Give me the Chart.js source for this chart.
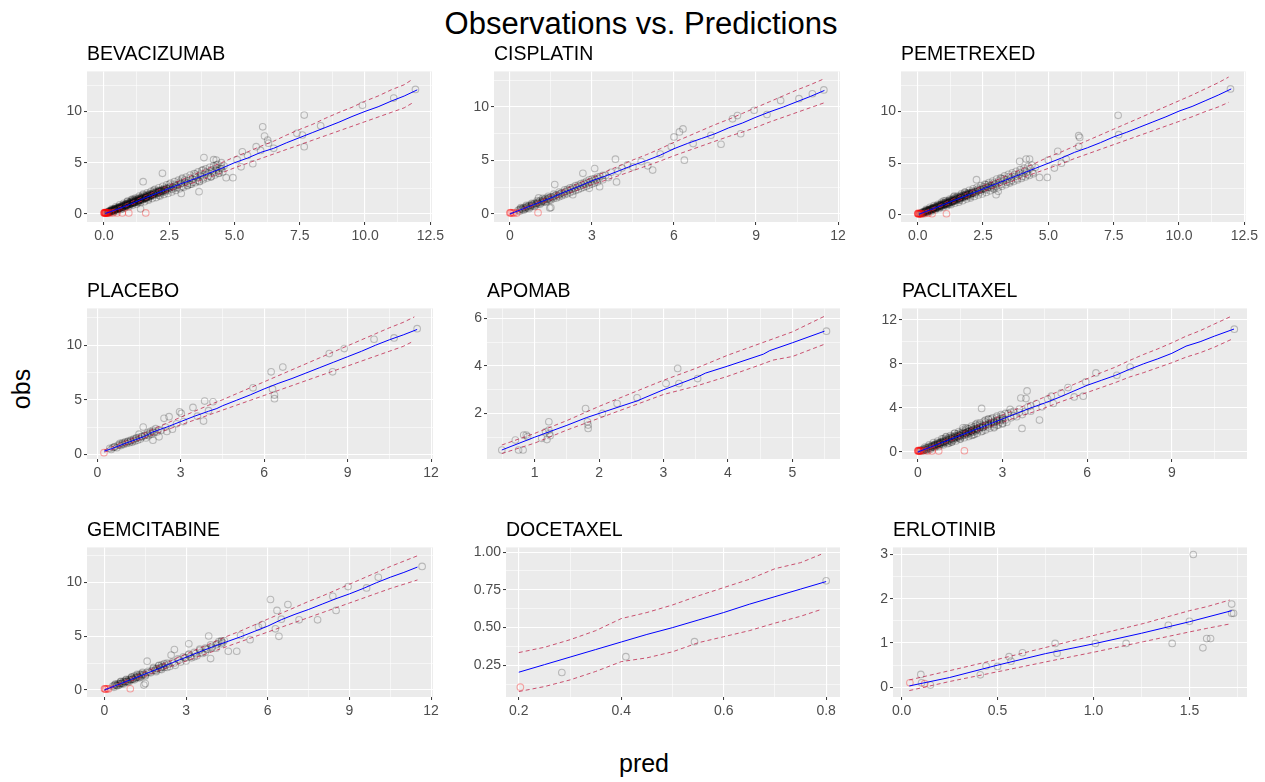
<!DOCTYPE html>
<html><head><meta charset="utf-8">
<script src="https://cdn.jsdelivr.net/npm/chart.js@4.4.1/dist/chart.umd.min.js"></script>
<style>
html,body{margin:0;padding:0;background:#fff;}
#wrap{position:relative;width:1265px;height:782px;overflow:hidden;font-family:"Liberation Sans",Arial,sans-serif;color:#000;}
canvas{position:absolute;}
.ptitle{position:absolute;font-size:19.5px;line-height:1;white-space:nowrap;}
#main{position:absolute;left:641px;top:8px;transform:translateX(-50%);font-size:31px;line-height:1;white-space:nowrap;}
#xlab{position:absolute;left:644px;top:751px;transform:translateX(-50%);font-size:25px;line-height:1;}
#ylab{position:absolute;left:21px;top:389px;transform:translate(-50%,-50%) rotate(-90deg);font-size:25px;line-height:1;}
</style>
</head><body>
<div id="wrap">
<div id="main">Observations vs. Predictions</div>
<div id="xlab">pred</div>
<div id="ylab">obs</div>
</div>
<script>
// ---------------- DATA ----------------
const PANEL_NAMES = ['BEVACIZUMAB','CISPLATIN','PEMETREXED','PLACEBO','APOMAB','PACLITAXEL','GEMCITABINE','DOCETAXEL','ERLOTINIB'];

// BEVACIZUMAB
const BEV_OBS = [[0.12,0.15],[0.15,0.1],[0.18,0.22],[0.2,0.3],[0.22,0.18],[0.25,0.35],[0.28,0.25],[0.3,0.4],[0.32,0.3],[0.35,0.45],[0.38,0.32],[0.4,0.5],[0.42,0.4],[0.45,0.55],[0.48,0.42],[0.5,0.6],[0.52,0.48],[0.55,0.65],[0.58,0.5],[0.6,0.72],[0.62,0.58],[0.65,0.75],[0.68,0.6],[0.7,0.82],[0.72,0.66],[0.75,0.9],[0.78,0.7],[0.8,0.95],[0.82,0.78],[0.85,1.0],[0.88,0.8],[0.9,1.05],[0.92,0.85],[0.95,1.1],[0.98,0.9],[1.0,1.15],[1.02,0.95],[1.05,1.25],[1.08,1.0],[1.1,1.3],[1.12,1.05],[1.15,1.4],[1.18,1.1],[1.2,1.35],[1.22,1.15],[1.25,1.5],[1.28,1.2],[1.3,1.45],[1.32,1.25],[1.35,1.6],[1.38,1.3],[1.4,1.55],[1.42,1.35],[1.45,1.7],[1.48,1.4],[1.5,1.6],[1.52,1.45],[1.55,1.8],[1.58,1.5],[1.6,1.7],[1.62,1.55],[1.65,1.9],[1.68,1.6],[1.7,1.85],[1.72,1.65],[1.75,2.0],[1.78,1.7],[1.8,1.95],[1.85,1.8],[1.9,2.1],[1.95,1.85],[2.0,2.2],[2.05,1.95],[2.1,2.3],[2.15,2.0],[2.2,2.35],[2.25,2.1],[2.3,2.5],[2.35,2.2],[2.4,2.55],[2.45,2.3],[2.5,2.6],[2.6,2.4],[2.7,2.9],[2.8,2.6],[2.9,3.1],[3.0,2.7],[3.1,3.3],[3.2,3.0],[3.3,3.5],[3.4,3.1],[3.5,3.7],[3.6,3.3],[3.7,3.9],[3.8,3.5],[3.9,4.1],[4.0,3.7],[4.1,4.3],[4.2,4.0],[4.3,4.5],[4.4,4.2],[4.5,4.6],[2.96,2.0],[3.64,2.18],[3.66,3.15],[1.5,3.15],[2.24,3.96],[3.83,5.5],[4.3,5.26],[4.2,5.3],[4.68,3.54],[4.94,3.54],[5.25,4.6],[5.7,4.9],[5.83,6.56],[5.3,6.07],[5.1,5.3],[5.5,5.7],[6.08,8.5],[6.15,7.6],[6.27,7.2],[6.3,6.9],[7.67,9.64],[7.67,6.56],[7.39,7.86],[7.6,7.7],[8.3,8.6],[9.9,10.6],[11.1,11.3],[11.93,12.14],[6.0,6.2],[6.5,6.4],[2.5,2.9],[2.7,2.5],[3.0,3.4],[3.2,2.8],[3.5,3.9],[3.3,2.9],[3.8,4.3],[4.1,3.6],[4.3,4.8],[4.4,4.0],[4.6,4.7],[4.5,4.4],[1.4,0.5],[0.3,0.3],[0.5,0.5],[0.7,0.7],[0.9,0.95],[1.1,1.15],[1.3,1.35],[1.5,1.55],[1.7,1.75],[1.9,1.95],[2.1,2.15],[2.3,2.35],[0.4,0.45],[0.6,0.6],[0.8,0.85],[1.0,1.05],[1.2,1.25],[1.4,1.45],[1.6,1.6],[1.8,1.85],[2.0,2.05],[2.2,2.2],
 [0.15,0.2],[0.18,0.15],[0.22,0.28],[0.26,0.22],[0.3,0.35],[0.34,0.4],[0.37,0.3],[0.41,0.45],[0.44,0.38],[0.47,0.52],[0.51,0.45],[0.54,0.6],[0.57,0.55],[0.61,0.65],[0.64,0.58],[0.67,0.72],[0.71,0.68],[0.74,0.8],[0.77,0.75],[0.81,0.88],[0.84,0.8],[0.87,0.95],[0.91,0.88],[0.94,1.0],[0.97,0.95],[1.01,1.08],[1.04,1.0],[1.07,1.15],[1.11,1.08],[1.14,1.22],[1.17,1.15],[1.21,1.3],[1.24,1.2],[1.27,1.38],[1.31,1.3],[1.34,1.42],[1.37,1.35],[1.41,1.5],[1.44,1.45],[1.47,1.58],[1.51,1.5],[1.54,1.65],[1.57,1.55],[1.61,1.72],[1.64,1.65],[1.67,1.8],[1.71,1.7],[1.74,1.85],[1.77,1.8],[1.81,1.9],[1.84,1.85],[1.88,2.0],[1.92,1.95],[1.96,2.1],[2.0,2.0],[2.04,2.15],[2.08,2.1],[2.12,2.25],[2.16,2.2],[2.2,2.3],[2.25,2.25],[2.3,2.4],[2.35,2.35],[2.4,2.45],[2.45,2.45],[2.55,2.7],[2.65,2.6],[2.75,2.8],[2.85,2.85],[2.95,3.0],[1.1,1.45],[1.3,1.1],[1.5,1.95],[1.7,1.45],[1.9,2.3],[2.1,1.8],[0.9,1.2],[0.7,0.5],
 [0.3,0.5],[0.35,0.2],[0.45,0.7],[0.5,0.3],[0.6,0.9],[0.65,0.45],[0.75,1.05],[0.8,0.6],[0.9,1.25],[0.95,0.7],[1.05,1.4],[1.1,0.85],[1.2,1.55],[1.25,0.95],[1.35,1.75],[1.4,1.1],[1.5,1.85],[1.55,1.2],[1.65,2.05],[1.7,1.35],[1.8,2.2],[1.85,1.5],[1.95,2.4],[2.0,1.6],[2.1,2.55],[2.15,1.75],[2.25,2.7],[2.3,1.9],[2.4,2.85],[2.45,2.0],[2.55,3.0],[2.6,2.15],[2.7,3.15],[2.75,2.3],[2.85,3.3],[2.9,2.45],[3.0,3.5],[3.05,2.6],[3.15,3.6],[3.2,2.75],[3.3,3.8],[3.35,2.9],[3.45,3.95],[3.5,3.05],[3.6,4.1],[3.65,3.2],[3.75,4.25],[3.8,3.35],[3.9,4.4],[3.95,3.5],[4.05,4.55],[4.1,3.65],[4.2,4.7],[4.25,3.8],[4.35,4.85],[4.4,3.95],[4.5,5.0],[4.55,4.1],[1.0,1.0],[1.3,1.3],[1.6,1.6],[1.9,1.9],[2.2,2.2],[2.5,2.5],[2.8,2.8],[3.1,3.1],[3.4,3.4],[3.7,3.7],[4.0,4.0],[4.3,4.3],[0.55,0.55],[0.85,0.85],[1.15,1.15],[1.45,1.45],[1.75,1.75],[2.05,2.05],[2.35,2.35],[2.65,2.65],[2.95,2.95],[3.25,3.25],[3.55,3.55],[3.85,3.85],[4.15,4.15],[4.45,4.45]];
const BEV_BLQ = [[0,0.1],[0.01,0.12],[0.02,0.08],[0.03,0.15],[0.04,0.1],[0.05,0.12],[0.06,0.08],[0.07,0.1],[0.08,0.14],[0.1,0.1],[0.12,0.12],[0.14,0.1],[0.18,0.1],[0.25,0.1],[0.35,0.1],[0.5,0.1],[0.7,0.1],[0.95,0.1],[1.6,0.1]];
const BEV_MED = [[0.05,0.05],[0.5,0.45],[1.0,0.95],[1.5,1.5],[2.0,2.0],[2.5,2.5],[3.0,3.0],[3.5,3.45],[4.0,3.95],[4.5,4.45],[5.0,5.0],[5.5,5.45],[6.0,6.0],[6.5,6.4],[7.0,6.95],[7.5,7.45],[8.0,7.95],[8.5,8.45],[9.0,8.95],[9.5,9.5],[10.0,10.0],[10.5,10.45],[11.0,11.0],[11.5,11.5],[12.0,12.1]];
const BEV_UP = [[0.05,0.1],[0.5,0.6],[1.0,1.15],[1.5,1.7],[2.0,2.25],[2.5,2.8],[3.0,3.35],[3.5,3.9],[4.0,4.45],[4.5,5.0],[5.0,5.55],[5.5,6.05],[6.0,6.6],[6.5,7.1],[7.0,7.7],[7.5,8.25],[8.0,8.75],[8.5,9.35],[9.0,9.9],[9.5,10.4],[10.0,11.0],[10.5,11.5],[11.0,12.1],[11.5,12.6],[11.8,13.1]];
const BEV_LO = [[0.05,0.0],[0.5,0.4],[1.0,0.85],[1.5,1.3],[2.0,1.8],[2.5,2.25],[3.0,2.7],[3.5,3.1],[4.0,3.55],[4.5,4.0],[5.0,4.5],[5.5,4.95],[6.0,5.4],[6.5,5.85],[7.0,6.3],[7.5,6.75],[8.0,7.2],[8.5,7.65],[9.0,8.1],[9.5,8.55],[10.0,9.0],[10.5,9.45],[11.0,9.9],[11.5,10.35],[11.8,10.8]];

// CISPLATIN
const CIS_OBS = [[0.3,0.35],[0.35,0.25],[0.4,0.5],[0.45,0.4],[0.5,0.6],[0.55,0.45],[0.6,0.7],[0.65,0.55],[0.7,0.8],[0.75,0.65],[0.8,0.9],[0.85,0.75],[0.9,1.0],[0.95,0.85],[1.0,1.1],[1.05,0.95],[1.1,1.25],[1.15,1.05],[1.2,1.3],[1.25,1.15],[1.3,1.45],[1.35,1.2],[1.4,1.5],[1.45,1.3],[1.5,1.6],[1.6,1.45],[1.64,2.75],[1.7,1.8],[1.8,1.6],[1.9,2.0],[2.0,1.8],[2.1,2.3],[2.2,2.0],[2.3,2.5],[2.4,2.2],[2.5,2.7],[2.6,2.4],[2.67,3.8],[2.7,2.9],[2.8,2.6],[2.9,3.2],[3.0,2.8],[3.1,4.25],[3.1,3.3],[3.2,3.0],[3.28,2.55],[3.3,3.5],[3.4,3.2],[3.5,3.6],[3.6,3.4],[3.7,3.9],[3.86,5.12],[3.9,3.0],[3.95,4.0],[4.1,4.3],[4.3,4.6],[4.5,4.4],[4.8,4.9],[5.04,4.5],[5.22,4.1],[1.46,0.55],[1.5,0.6],[1.05,1.5],[2.3,1.8],[2.9,2.4],[0.6,0.6],[0.8,0.8],[1.0,1.0],[1.2,1.2],[1.4,1.4],[1.6,1.65],[1.8,1.85],[2.0,2.05],[5.5,5.6],[5.9,6.3],[6.0,7.2],[6.2,7.67],[6.33,7.95],[6.38,5.03],[6.7,6.58],[7.35,7.36],[7.72,6.52],[8.14,8.9],[8.32,9.2],[8.44,7.5],[8.93,9.7],[9.4,9.3],[9.9,10.6],[10.57,10.78],[11.06,11.24],[11.48,11.6],
 [0.35,0.4],[0.45,0.5],[0.55,0.55],[0.65,0.7],[0.75,0.75],[0.85,0.9],[0.95,0.95],[1.05,1.1],[1.15,1.15],[1.25,1.3],[1.35,1.35],[1.45,1.5],[1.55,1.55],[1.65,1.7],[1.75,1.7],[1.85,1.9],[1.95,1.9],[2.05,2.1],[2.15,2.2],[2.25,2.3],[2.35,2.4],[2.45,2.5],[2.55,2.6],[2.65,2.7],[2.75,2.8],[2.85,2.9],[2.95,3.0],[3.05,3.1],[3.15,3.2],[3.25,3.3],
 [0.4,0.6],[0.5,0.35],[0.6,0.8],[0.7,0.5],[0.8,1.0],[0.9,0.7],[1.0,1.25],[1.1,0.9],[1.2,1.45],[1.3,1.1],[1.4,1.65],[1.5,1.3],[1.6,1.85],[1.7,1.5],[1.8,2.05],[1.9,1.7],[2.0,2.25],[2.1,1.9],[2.2,2.45],[2.3,2.1],[2.4,2.65],[2.5,2.3],[2.6,2.85],[2.7,2.5],[2.8,3.05],[2.9,2.7],[3.0,3.25],[3.1,2.9],[3.2,3.45],[3.4,3.6]];
const CIS_BLQ = [[0,0.1],[0.02,0.12],[0.05,0.08],[0.1,0.1],[0.15,0.1],[0.25,0.08],[1.03,0.12]];
const CIS_MED = [[0,0],[0.5,0.5],[1,1],[1.5,1.5],[2,2.05],[2.5,2.55],[3,3.1],[3.5,3.55],[4,4.05],[4.5,4.55],[5,5.0],[5.5,5.5],[6,6.1],[6.5,6.6],[7,7.05],[7.5,7.5],[8,8.05],[8.5,8.5],[9,9.05],[9.5,9.55],[10,10.0],[10.5,10.5],[11,11.0],[11.5,11.55]];
const CIS_UP = [[0,0.05],[0.5,0.6],[1,1.15],[1.5,1.7],[2,2.3],[2.5,2.85],[3,3.4],[3.5,3.95],[4,4.5],[4.5,5.05],[5,5.55],[5.5,6.1],[6,6.7],[6.5,7.25],[7,7.8],[7.5,8.35],[8,8.85],[8.5,9.4],[9,9.95],[9.5,10.5],[10,11.05],[10.5,11.6],[11,12.1],[11.5,12.65]];
const CIS_LO = [[0,-0.05],[0.5,0.4],[1,0.85],[1.5,1.3],[2,1.8],[2.5,2.25],[3,2.75],[3.5,3.15],[4,3.6],[4.5,4.05],[5,4.5],[5.5,4.95],[6,5.45],[6.5,5.9],[7,6.35],[7.5,6.8],[8,7.25],[8.5,7.65],[9,8.1],[9.5,8.6],[10,9.05],[10.5,9.5],[11,9.95],[11.5,10.4]];

// PEMETREXED
const PEM_OBS = [[0.1,0.12],[0.14,0.2],[0.18,0.1],[0.2,0.28],[0.24,0.2],[0.27,0.36],[0.3,0.25],[0.33,0.42],[0.36,0.3],[0.4,0.48],[0.43,0.38],[0.46,0.56],[0.5,0.44],[0.53,0.62],[0.56,0.5],[0.6,0.7],[0.63,0.56],[0.66,0.78],[0.7,0.62],[0.73,0.86],[0.76,0.68],[0.8,0.94],[0.83,0.74],[0.86,1.0],[0.9,0.8],[0.93,1.08],[0.96,0.88],[1.0,1.16],[1.03,0.95],[1.06,1.24],[1.1,1.0],[1.13,1.3],[1.16,1.08],[1.2,1.38],[1.23,1.14],[1.26,1.45],[1.3,1.2],[1.33,1.52],[1.36,1.28],[1.4,1.6],[1.43,1.34],[1.46,1.68],[1.5,1.42],[1.55,1.75],[1.6,1.5],[1.65,1.85],[1.7,1.6],[1.75,1.95],[1.8,1.7],[1.85,2.05],[1.9,1.8],[1.95,2.15],[2.0,1.9],[2.1,2.3],[2.2,2.05],[2.3,2.5],[2.4,2.2],[2.5,2.7],[2.6,2.4],[2.7,2.95],[2.8,2.6],[2.9,3.1],[3.0,2.75],[3.1,3.3],[3.2,2.95],[3.3,3.5],[3.4,3.15],[3.5,3.7],[3.6,3.35],[3.7,3.9],[3.8,3.5],[3.9,4.1],[4.0,3.7],[4.1,4.3],[4.2,3.9],[4.3,4.5],[4.4,4.1],[4.5,4.6],[0.3,0.32],[0.5,0.52],[0.7,0.72],[0.9,0.92],[1.1,1.12],[1.3,1.32],[1.5,1.55],[1.7,1.72],[1.9,1.95],[2.1,2.12],[0.4,0.4],[0.6,0.62],[0.8,0.82],[1.0,1.02],[1.2,1.22],[1.4,1.42],[1.6,1.65],[1.8,1.85],[2.0,2.05],[2.6,2.9],[2.9,2.6],[3.2,3.5],[3.5,3.2],[3.0,1.94],[3.08,2.27],[2.25,3.4],[3.9,5.18],[4.15,5.4],[4.28,5.4],[4.66,3.62],[4.96,3.62],[5.23,4.53],[5.36,6.15],[5.68,5.4],[5.0,5.3],[5.5,5.0],[6.16,7.67],[6.2,7.5],[6.16,6.63],[7.67,9.64],[7.69,7.77],[11.97,12.2],
 [0.16,0.18],[0.2,0.14],[0.24,0.3],[0.28,0.24],[0.32,0.36],[0.36,0.42],[0.39,0.33],[0.43,0.47],[0.46,0.4],[0.49,0.54],[0.53,0.47],[0.56,0.62],[0.59,0.56],[0.63,0.67],[0.66,0.6],[0.69,0.74],[0.73,0.7],[0.76,0.82],[0.79,0.76],[0.83,0.9],[0.86,0.82],[0.89,0.96],[0.93,0.9],[0.96,1.02],[0.99,0.97],[1.03,1.1],[1.06,1.02],[1.09,1.17],[1.13,1.1],[1.16,1.24],[1.19,1.16],[1.23,1.32],[1.26,1.22],[1.29,1.4],[1.33,1.32],[1.36,1.44],[1.39,1.37],[1.43,1.52],[1.46,1.47],[1.49,1.6],[1.53,1.52],[1.56,1.67],[1.59,1.57],[1.63,1.74],[1.66,1.67],[1.69,1.82],[1.73,1.72],[1.76,1.87],[1.79,1.82],[1.83,1.92],[1.87,1.87],[1.91,2.02],[1.95,1.97],[1.99,2.12],[2.03,2.02],[2.08,2.17],[2.13,2.12],[2.18,2.27],[2.23,2.22],[2.28,2.38],[2.33,2.33],[2.38,2.45],[2.44,2.42],[2.5,2.55],[2.56,2.5],[2.62,2.72],[2.7,2.65],[2.78,2.85],[2.86,2.8],[2.95,3.0],[1.0,1.35],[1.2,1.0],[1.4,1.8],[1.6,1.4],[1.8,2.2],[2.0,1.75],
 [0.32,0.52],[0.37,0.22],[0.47,0.72],[0.52,0.32],[0.62,0.88],[0.67,0.47],[0.77,1.02],[0.82,0.62],[0.92,1.22],[0.97,0.72],[1.07,1.38],[1.12,0.87],[1.22,1.52],[1.27,0.97],[1.37,1.72],[1.42,1.12],[1.52,1.82],[1.57,1.22],[1.67,2.02],[1.72,1.37],[1.82,2.17],[1.87,1.52],[1.97,2.37],[2.02,1.62],[2.12,2.52],[2.17,1.77],[2.27,2.67],[2.32,1.92],[2.42,2.82],[2.47,2.02],[2.57,2.97],[2.62,2.17],[2.72,3.12],[2.77,2.32],[2.87,3.27],[2.92,2.47],[3.02,3.47],[3.07,2.62],[3.17,3.57],[3.22,2.77],[3.32,3.77],[3.37,2.92],[3.47,3.92],[3.52,3.07],[3.62,4.07],[3.67,3.22],[3.77,4.22],[3.82,3.37],[3.92,4.37],[3.97,3.52],[4.07,4.52],[4.12,3.67],[4.22,4.67],[4.27,3.82],[4.37,4.82],[4.42,3.97],[1.02,1.02],[1.32,1.32],[1.62,1.62],[1.92,1.92],[2.22,2.22],[2.52,2.52],[2.82,2.82],[3.12,3.12],[3.42,3.42],[3.72,3.72],[4.02,4.02],[0.57,0.57],[0.87,0.87],[1.17,1.17],[1.47,1.47],[1.77,1.77],[2.07,2.07],[2.37,2.37],[2.67,2.67],[2.97,2.97],[3.27,3.27],[3.57,3.57],[3.87,3.87],[4.17,4.17]];
const PEM_BLQ = [[0,0.1],[0.01,0.13],[0.02,0.15],[0.03,0.08],[0.05,0.08],[0.06,0.12],[0.08,0.1],[0.1,0.12],[0.12,0.09],[0.15,0.1],[0.25,0.1],[0.4,0.15],[0.55,0.1],[1.1,0.1]];
const PEM_MED = [[0.05,0.05],[0.5,0.5],[1.0,1.0],[1.5,1.5],[2.0,2.0],[2.5,2.5],[3.0,3.0],[3.5,3.5],[4.0,4.0],[4.5,4.5],[5.0,5.0],[5.5,5.5],[6.0,6.05],[6.5,6.5],[7.0,7.0],[7.5,7.55],[8.0,8.0],[8.5,8.5],[9.0,9.0],[9.5,9.5],[10.0,10.05],[10.5,10.5],[11.0,11.05],[11.5,11.6],[12.0,12.2]];
const PEM_UP = [[0.05,0.1],[0.5,0.6],[1.0,1.15],[1.5,1.7],[2.0,2.25],[2.5,2.8],[3.0,3.35],[3.5,3.9],[4.0,4.45],[4.5,5.0],[5.0,5.6],[5.5,6.1],[6.0,6.65],[6.5,7.2],[7.0,7.75],[7.5,8.3],[8.0,8.85],[8.5,9.4],[9.0,9.95],[9.5,10.5],[10.0,11.05],[10.5,11.6],[11.0,12.2],[11.5,12.8],[11.9,13.35]];
const PEM_LO = [[0.05,0.0],[0.5,0.4],[1.0,0.85],[1.5,1.3],[2.0,1.8],[2.5,2.25],[3.0,2.7],[3.5,3.15],[4.0,3.6],[4.5,4.05],[5.0,4.5],[5.5,4.95],[6.0,5.45],[6.5,5.9],[7.0,6.35],[7.5,6.8],[8.0,7.25],[8.5,7.7],[9.0,8.15],[9.5,8.6],[10.0,9.05],[10.5,9.5],[11.0,10.0],[11.5,10.45],[11.9,10.9]];

// PLACEBO
const PLA_OBS = [[0.45,0.55],[0.5,0.45],[0.55,0.6],[0.63,0.7],[0.7,0.6],[0.75,0.85],[0.81,1.0],[0.85,0.8],[0.9,1.05],[0.95,0.9],[1.0,1.15],[1.05,1.0],[1.1,1.2],[1.15,1.05],[1.2,1.3],[1.25,1.1],[1.3,1.4],[1.35,1.2],[1.4,1.5],[1.45,1.3],[1.5,1.85],[1.55,1.4],[1.6,1.6],[1.65,2.5],[1.7,1.75],[1.75,1.5],[1.8,1.95],[1.85,1.7],[1.9,2.1],[1.95,1.85],[2.0,1.3],[2.0,2.2],[2.05,2.0],[2.1,2.35],[2.15,2.05],[2.22,1.6],[2.3,2.2],[2.4,3.3],[2.45,2.5],[2.5,2.1],[2.58,3.45],[2.7,2.3],[2.85,2.8],[2.96,3.9],[3.02,3.75],[3.1,3.0],[3.44,4.3],[3.6,3.5],[3.82,3.05],[3.86,4.88],[4.0,4.0],[4.16,4.82],[5.6,6.1],[6.25,7.56],[6.67,8.0],[6.37,5.43],[6.37,5.1],[6.3,6.0],[8.34,9.24],[8.46,7.56],[8.88,9.7],[9.95,10.55],[10.67,10.67],[11.5,11.52],
 [0.6,0.65],[0.8,0.85],[1.0,1.05],[1.2,1.2],[1.4,1.45],[1.6,1.65],[1.8,1.8],[2.0,2.05],[2.2,2.25],[0.9,0.95],[1.1,1.15],[1.3,1.3],[1.5,1.55],[1.7,1.7],[1.9,1.95]];
const PLA_BLQ = [[0.24,0.15]];
const PLA_MED = [[0.25,0.3],[0.5,0.5],[1,1.0],[1.5,1.45],[1.7,1.65],[2,2.05],[2.5,2.5],[3,3.0],[3.5,3.5],[4,3.95],[4.3,4.2],[4.5,4.45],[5,4.95],[5.5,5.45],[6,6.0],[6.5,6.5],[7,6.95],[7.5,7.45],[8,7.95],[8.5,8.45],[9,8.95],[9.5,9.45],[10,10.0],[10.5,10.5],[11,10.95],[11.5,11.45]];
const PLA_UP = [[0.25,0.4],[0.5,0.65],[1,1.2],[1.5,1.7],[2,2.3],[2.5,2.85],[3,3.4],[3.5,3.95],[4,4.5],[4.5,5.0],[5,5.55],[5.5,6.1],[6,6.65],[6.5,7.2],[7,7.75],[7.5,8.3],[8,8.85],[8.5,9.4],[9,9.95],[9.5,10.5],[10,11.05],[10.5,11.6],[11,12.1],[11.4,12.6]];
const PLA_LO = [[0.25,0.2],[0.5,0.4],[1,0.85],[1.5,1.3],[2,1.8],[2.5,2.25],[3,2.7],[3.5,3.15],[4,3.6],[4.5,4.05],[5,4.5],[5.5,4.95],[6,5.4],[6.5,5.85],[7,6.3],[7.5,6.75],[8,7.2],[8.5,7.65],[9,8.1],[9.5,8.55],[10,9.0],[10.5,9.45],[11,9.9],[11.35,10.35]];

// APOMAB
const APO_OBS = [[0.49,0.46],[0.7,0.88],[0.75,0.46],[0.82,0.46],[0.83,1.09],[0.87,1.09],[0.89,1.02],[1.11,0.95],[1.17,1.23],[1.22,1.65],[1.22,1.3],[1.23,1.16],[1.19,0.9],[1.24,1.06],[1.79,2.21],[1.82,1.65],[1.83,1.37],[1.83,1.51],[2.59,2.66],[2.28,2.42],[2.05,2.0],[3.04,3.26],[3.22,3.9],[3.24,3.26],[3.53,3.47],[5.53,5.47]];
const APO_BLQ = [];
const APO_MED = [[0.49,0.46],[1.0,1.0],[1.5,1.5],[1.8,1.82],[2.0,2.0],[2.59,2.53],[3.0,3.0],[3.53,3.54],[3.65,3.7],[4.0,4.0],[4.55,4.5],[4.65,4.65],[5.0,4.98],[5.5,5.47]];
const APO_UP = [[0.49,0.67],[1.0,1.16],[1.5,1.7],[2.0,2.3],[2.5,2.85],[3.0,3.4],[3.5,3.9],[4.0,4.46],[4.5,4.95],[5.0,5.44],[5.5,6.1]];
const APO_LO = [[0.49,0.31],[1.0,0.75],[1.5,1.3],[2.0,1.8],[2.5,2.3],[3.0,2.8],[3.5,3.15],[4.0,3.57],[4.5,4.05],[4.7,4.25],[5.0,4.4],[5.5,4.92]];

// PACLITAXEL
const PAC_OBS = [[0.1,0.15],[0.15,0.1],[0.2,0.3],[0.25,0.2],[0.3,0.4],[0.35,0.25],[0.4,0.5],[0.45,0.35],[0.5,0.6],[0.55,0.45],[0.6,0.7],[0.65,0.55],[0.7,0.85],[0.75,0.65],[0.8,0.9],[0.85,0.7],[0.9,1.05],[0.95,0.85],[1.0,1.2],[1.05,0.9],[1.1,1.3],[1.15,1.0],[1.2,1.4],[1.25,1.1],[1.3,1.5],[1.35,1.2],[1.4,1.65],[1.45,1.3],[1.5,1.75],[1.55,1.4],[1.6,1.8],[1.65,1.5],[1.7,2.0],[1.75,1.6],[1.8,2.1],[1.85,1.7],[1.9,2.2],[1.95,1.8],[2.0,2.3],[2.05,1.9],[2.1,2.4],[2.15,2.0],[2.2,2.5],[2.26,3.95],[2.3,2.2],[2.4,2.7],[2.5,2.3],[2.6,3.0],[2.7,2.5],[2.8,3.1],[2.9,2.7],[3.0,3.3],[3.1,2.9],[3.2,3.5],[3.27,3.86],[3.3,3.1],[3.4,3.7],[3.5,3.2],[3.6,3.9],[3.65,4.9],[3.69,2.14],[3.7,3.4],[3.83,4.85],[3.87,5.54],[3.9,4.1],[4.0,3.7],[4.2,4.4],[4.31,2.9],[4.4,4.1],[4.6,4.8],[4.73,5.06],[4.8,4.4],[5.08,5.36],[5.32,5.84],[5.54,5.0],[5.86,5.06],[5.95,6.36],[6.31,7.17],[7.05,6.96],[7.52,7.71],[11.21,11.14],[0.5,0.5],[0.7,0.7],[0.9,0.9],[1.1,1.1],[1.3,1.3],[1.5,1.5],[1.7,1.75],[1.9,1.95],[2.1,2.15],[2.3,2.4],[2.5,2.6],[2.7,2.8],[2.9,3.0],[1.0,1.4],[1.2,0.9],[1.6,2.2],[2.0,1.6],[2.4,2.9],[2.8,2.4],[3.0,2.6],[3.3,3.6],[3.0,2.9],[0.6,0.6],[0.8,0.8],[1.4,1.4],[1.8,1.85],[2.2,2.25],
 [0.15,0.2],[0.2,0.15],[0.25,0.3],[0.3,0.25],[0.35,0.4],[0.4,0.35],[0.45,0.5],[0.5,0.45],[0.55,0.6],[0.6,0.55],[0.65,0.7],[0.7,0.65],[0.75,0.8],[0.8,0.75],[0.85,0.9],[0.9,0.85],[0.95,1.0],[1.0,0.95],[1.05,1.15],[1.1,1.05],[1.15,1.25],[1.2,1.15],[1.25,1.35],[1.3,1.25],[1.35,1.45],[1.4,1.35],[1.45,1.55],[1.5,1.45],[1.55,1.65],[1.6,1.55],[1.65,1.75],[1.7,1.65],[1.75,1.85],[1.8,1.75],[1.85,1.95],[1.9,1.85],[1.95,2.05],[2.0,1.95],[2.05,2.15],[2.1,2.05],[2.2,2.3],[2.3,2.25],[2.4,2.5],[2.5,2.45],[2.6,2.7],[2.7,2.65],[2.8,2.9],[2.9,2.85],[3.0,3.1],[1.3,1.7],[1.5,1.2],[1.7,2.2],[1.9,1.5],[2.1,2.6],[2.3,1.9],[2.5,3.0],[2.7,2.2],[1.1,0.8],[0.9,1.2],
 [0.25,0.45],[0.3,0.15],[0.4,0.65],[0.45,0.25],[0.55,0.85],[0.6,0.4],[0.7,1.0],[0.75,0.5],[0.85,1.2],[0.9,0.65],[1.0,1.35],[1.05,0.75],[1.15,1.5],[1.2,0.9],[1.3,1.7],[1.35,1.0],[1.45,1.85],[1.5,1.15],[1.6,2.0],[1.65,1.3],[1.75,2.15],[1.8,1.4],[1.9,2.35],[1.95,1.55],[2.05,2.5],[2.1,1.7],[2.2,2.65],[2.25,1.85],[2.35,2.8],[2.4,2.0],[2.5,2.95],[2.55,2.15],[2.65,3.1],[2.7,2.3],[2.8,3.25],[2.85,2.45],[2.95,3.4],[3.0,2.55],[3.1,3.5],[3.15,2.7],[0.6,0.65],[0.8,0.85],[1.0,1.05],[1.2,1.25],[1.4,1.45],[1.6,1.65],[1.8,1.85],[2.0,2.05],[2.2,2.2],[2.4,2.4],[2.6,2.6],[2.8,2.8],[3.0,3.0],[0.7,0.75],[0.9,0.95],[1.1,1.15],[1.3,1.35],[1.5,1.55],[1.7,1.7],[1.9,1.9],[2.1,2.1],[2.3,2.3],[2.5,2.5],[2.7,2.7],[3.4,3.3],[3.6,3.6],[3.8,3.7],[4.0,4.2]];
const PAC_BLQ = [[0,0.1],[0.01,0.13],[0.02,0.08],[0.03,0.15],[0.05,0.1],[0.06,0.08],[0.08,0.12],[0.1,0.1],[0.2,0.12],[0.35,0.1],[0.5,0.1],[0.74,0.1],[1.65,0.12]];
const PAC_MED = [[0,0],[0.5,0.5],[1,1.0],[1.5,1.5],[2,2.0],[2.5,2.5],[3,3.0],[3.5,3.5],[4,4.0],[4.5,4.45],[5,4.95],[5.5,5.5],[6,6.05],[6.5,6.5],[7,6.95],[7.5,7.5],[8,8.0],[8.5,8.45],[9,8.95],[9.5,9.6],[10,10.0],[10.5,10.5],[11.2,11.15]];
const PAC_UP = [[0,0.05],[0.5,0.6],[1,1.15],[1.5,1.7],[2,2.25],[2.5,2.8],[3,3.35],[3.5,3.9],[4,4.45],[4.5,5.0],[5,5.5],[5.5,6.1],[6,6.65],[6.5,7.2],[7,7.7],[7.5,8.3],[8,8.85],[8.5,9.35],[9,9.9],[9.5,10.5],[10,11.0],[10.5,11.6],[11.1,12.3]];
const PAC_LO = [[0,-0.05],[0.5,0.4],[1,0.85],[1.5,1.3],[2,1.8],[2.5,2.25],[3,2.7],[3.5,3.15],[4,3.55],[4.5,4.0],[5,4.5],[5.5,4.95],[6,5.4],[6.5,5.85],[7,6.3],[7.5,6.8],[8,7.2],[8.5,7.65],[9,8.1],[9.5,8.6],[10,9.0],[10.5,9.5],[11.1,10.2]];

// GEMCITABINE
const GEM_OBS = [[0.3,0.35],[0.35,0.25],[0.4,0.5],[0.45,0.4],[0.5,0.6],[0.55,0.5],[0.6,0.75],[0.65,0.6],[0.7,0.8],[0.75,0.7],[0.8,0.95],[0.85,0.75],[0.9,1.0],[0.95,0.9],[1.0,1.2],[1.05,1.0],[1.1,1.3],[1.15,1.1],[1.2,1.35],[1.25,1.15],[1.3,1.45],[1.35,1.25],[1.4,1.55],[1.45,0.46],[1.5,1.4],[1.57,2.69],[1.6,1.75],[1.7,1.6],[1.8,2.0],[1.9,1.8],[2.0,2.25],[2.05,1.95],[2.1,2.35],[2.2,2.1],[2.3,2.5],[2.4,2.2],[2.45,3.25],[2.5,2.6],[2.57,3.77],[2.6,2.3],[2.7,2.9],[2.8,2.6],[2.9,3.1],[3.0,2.7],[3.1,4.3],[3.1,3.3],[3.2,3.0],[3.3,3.5],[3.4,3.2],[3.5,3.7],[3.6,3.4],[3.7,3.9],[3.83,5.03],[3.9,2.93],[3.95,4.0],[4.1,4.2],[4.2,4.5],[4.3,4.3],[4.4,4.6],[4.55,3.61],[4.86,3.61],[5.0,5.1],[5.35,4.69],[5.66,5.86],[5.8,6.1],[6.1,8.43],[6.34,7.41],[6.41,5.0],[6.28,5.7],[6.5,6.6],[6.74,7.96],[7.15,6.54],[7.83,6.54],[8.39,8.73],[8.51,7.41],[8.95,9.63],[9.63,9.51],[10.06,10.49],[11.67,11.51],[1.5,0.6],[0.6,0.6],[0.8,0.8],[1.0,1.0],[1.2,1.2],[1.4,1.4],[1.9,2.0],[2.1,2.1],[3.0,3.0],[3.8,3.8],[4.3,4.5],
 [0.35,0.4],[0.45,0.45],[0.55,0.6],[0.65,0.65],[0.75,0.8],[0.85,0.85],[0.95,1.0],[1.05,1.05],[1.15,1.2],[1.25,1.25],[1.35,1.4],[1.45,1.45],[1.55,1.6],[1.65,1.65],[1.75,1.8],[1.85,1.85],[1.95,2.0],[2.05,2.1],[2.15,2.2],[2.25,2.3],[2.35,2.4],[2.55,2.5],[2.75,2.8],[2.95,3.0],[3.15,3.1],[3.35,3.4],[3.55,3.5],[3.75,3.8],[3.95,3.9],[4.15,4.3],[4.35,4.4],
 [0.4,0.55],[0.5,0.4],[0.6,0.8],[0.7,0.55],[0.8,1.0],[0.9,0.75],[1.0,1.2],[1.1,0.95],[1.2,1.45],[1.3,1.15],[1.4,1.65],[1.5,1.3],[1.8,2.1],[1.9,1.7],[2.0,2.3],[2.1,1.9],[2.2,2.45],[2.3,2.1],[3.1,3.35],[3.3,3.1],[3.5,3.8],[3.7,3.5],[3.9,4.2],[4.1,3.9],[4.3,4.6]];
const GEM_BLQ = [[0,0.12],[0.02,0.1],[0.05,0.08],[0.1,0.12],[0.15,0.1],[0.95,0.12]];
const GEM_MED = [[0,0],[0.5,0.5],[1,1.0],[1.5,1.5],[2,2.0],[2.5,2.55],[3,3.05],[3.5,3.55],[4,4.05],[4.5,4.5],[5,4.95],[5.5,5.45],[6,5.95],[6.5,6.55],[7,7.05],[7.5,7.5],[8,8.0],[8.5,8.5],[9,8.95],[9.5,9.45],[10,10.0],[10.5,10.5],[11,10.95],[11.5,11.45]];
const GEM_UP = [[0,0.05],[0.5,0.6],[1,1.15],[1.5,1.7],[2,2.25],[2.5,2.8],[3,3.35],[3.5,3.9],[4,4.45],[4.5,5.0],[5,5.5],[5.5,6.05],[6,6.6],[6.5,7.15],[7,7.7],[7.5,8.25],[8,8.75],[8.5,9.3],[9,9.85],[9.5,10.4],[10,10.95],[10.5,11.5],[11,12.0],[11.5,12.5]];
const GEM_LO = [[0,-0.05],[0.5,0.4],[1,0.85],[1.5,1.3],[2,1.8],[2.5,2.25],[3,2.7],[3.5,3.15],[4,3.6],[4.5,4.05],[5,4.5],[5.5,4.95],[6,5.4],[6.5,5.85],[7,6.3],[7.5,6.75],[8,7.2],[8.5,7.65],[9,8.1],[9.5,8.55],[10,9.0],[10.5,9.45],[11,9.85],[11.5,10.25]];

// DOCETAXEL
const DOC_OBS = [[0.284,0.203],[0.409,0.308],[0.543,0.407],[0.8,0.81]];
const DOC_BLQ = [[0.203,0.106]];
const DOC_MED = [[0.2,0.205],[0.25,0.255],[0.3,0.305],[0.35,0.355],[0.4,0.405],[0.45,0.455],[0.5,0.5],[0.55,0.55],[0.6,0.6],[0.65,0.655],[0.7,0.705],[0.75,0.755],[0.8,0.805]];
const DOC_UP = [[0.2,0.335],[0.25,0.37],[0.3,0.42],[0.35,0.48],[0.4,0.56],[0.45,0.6],[0.5,0.65],[0.55,0.71],[0.6,0.765],[0.65,0.82],[0.7,0.89],[0.75,0.93],[0.79,0.985]];
const DOC_LO = [[0.2,0.077],[0.25,0.11],[0.3,0.154],[0.35,0.21],[0.4,0.275],[0.45,0.3],[0.5,0.34],[0.55,0.4],[0.6,0.44],[0.65,0.48],[0.7,0.53],[0.75,0.575],[0.79,0.62]];

// ERLOTINIB
const ERL_OBS = [[0.1,0.29],[0.104,0.1],[0.15,0.05],[0.41,0.28],[0.44,0.48],[0.5,0.47],[0.56,0.69],[0.57,0.59],[0.63,0.78],[0.8,0.99],[0.81,0.77],[1.01,0.99],[1.17,0.99],[1.41,0.99],[1.39,1.4],[1.52,3.0],[1.57,0.89],[1.59,1.1],[1.61,1.1],[1.72,1.67],[1.72,1.88],[1.73,1.67],[1.5,1.49]];
const ERL_BLQ = [[0.043,0.1],[0.12,0.08]];
const ERL_MED = [[0.04,0.03],[0.25,0.22],[0.5,0.5],[0.75,0.76],[1.0,0.98],[1.25,1.22],[1.5,1.48],[1.72,1.73]];
const ERL_UP = [[0.04,0.165],[0.25,0.375],[0.5,0.63],[0.77,0.92],[1.01,1.18],[1.26,1.44],[1.5,1.73],[1.59,1.82],[1.71,1.97]];
const ERL_LO = [[0.04,-0.075],[0.25,0.13],[0.5,0.35],[0.77,0.59],[1.01,0.8],[1.26,1.03],[1.5,1.25],[1.59,1.33],[1.71,1.43]];

// Tick values and labels
const X_TICKS_125 = [0,2.5,5,7.5,10,12.5];
const X_LABELS_125 = ['0.0','2.5','5.0','7.5','10.0','12.5'];
const X_MINOR_125 = [1.25,3.75,6.25,8.75,11.25];
const X_TICKS_12 = [0,3,6,9,12];
const X_LABELS_12 = ['0','3','6','9','12'];
const X_MINOR_12 = [1.5,4.5,7.5,10.5];
const X_TICKS_PAC = [0,3,6,9];
const X_LABELS_PAC = ['0','3','6','9'];
const X_MINOR_PAC = [1.5,4.5,7.5,10.5];
const Y_TICKS_10 = [0,5,10];
const Y_LABELS_10 = ['0','5','10'];
const Y_MINOR_10 = [2.5,7.5,12.5];
const APO_X_TICKS = [1,2,3,4,5];
const APO_X_LABELS = ['1','2','3','4','5'];
const APO_X_MINOR = [0.5,1.5,2.5,3.5,4.5,5.5];
const APO_Y_TICKS = [2,4,6];
const APO_Y_LABELS = ['2','4','6'];
const APO_Y_MINOR = [1,3,5];
const PAC_Y_TICKS = [0,4,8,12];
const PAC_Y_LABELS = ['0','4','8','12'];
const PAC_Y_MINOR = [2,6,10];
const DOC_X_TICKS = [0.2,0.4,0.6,0.8];
const DOC_X_LABELS = ['0.2','0.4','0.6','0.8'];
const DOC_X_MINOR = [0.3,0.5,0.7];
const DOC_Y_TICKS = [0.25,0.5,0.75,1.0];
const DOC_Y_LABELS = ['0.25','0.50','0.75','1.00'];
const DOC_Y_MINOR = [0.125,0.375,0.625,0.875];
const ERL_X_TICKS = [0,0.5,1,1.5];
const ERL_X_LABELS = ['0.0','0.5','1.0','1.5'];
const ERL_X_MINOR = [0.25,0.75,1.25,1.75];
const ERL_Y_TICKS = [0,1,2,3];
const ERL_Y_LABELS = ['0','1','2','3'];
const ERL_Y_MINOR = [0.5,1.5,2.5];

// ---------------- LAYOUT / CONFIG ----------------
const FONT = "'Liberation Sans', Arial, sans-serif";
const PAD_TOP = 10, PAD_RIGHT = 14, X_AXIS_H = 24;
const PANELS = [
 {name:PANEL_NAMES[0], left:30, grayTop:71, grayH:151, w:417, yW:57, obs:BEV_OBS, blq:BEV_BLQ, med:BEV_MED, up:BEV_UP, lo:BEV_LO,
  x:[-0.65,12.56,X_TICKS_125,X_LABELS_125,X_MINOR_125], y:[-0.78,13.9,Y_TICKS_10,Y_LABELS_10,Y_MINOR_10]},
 {name:PANEL_NAMES[1], left:449, grayTop:71, grayH:151, w:405, yW:45, obs:CIS_OBS, blq:CIS_BLQ, med:CIS_MED, up:CIS_UP, lo:CIS_LO,
  x:[-0.58,12.07,X_TICKS_12,X_LABELS_12,X_MINOR_12], y:[-0.75,13.33,Y_TICKS_10,Y_LABELS_10,Y_MINOR_10]},
 {name:PANEL_NAMES[2], left:856, grayTop:71, grayH:151, w:405, yW:45, obs:PEM_OBS, blq:PEM_BLQ, med:PEM_MED, up:PEM_UP, lo:PEM_LO,
  x:[-0.64,12.55,X_TICKS_125,X_LABELS_125,X_MINOR_125], y:[-0.7,13.9,Y_TICKS_10,Y_LABELS_10,Y_MINOR_10]},
 {name:PANEL_NAMES[3], left:30, grayTop:308, grayH:151, w:417, yW:57, obs:PLA_OBS, blq:PLA_BLQ, med:PLA_MED, up:PLA_UP, lo:PLA_LO,
  x:[-0.37,12.07,X_TICKS_12,X_LABELS_12,X_MINOR_12], y:[-0.43,13.38,Y_TICKS_10,Y_LABELS_10,Y_MINOR_10]},
 {name:PANEL_NAMES[4], left:449, grayTop:308, grayH:151, w:405, yW:38, obs:APO_OBS, blq:APO_BLQ, med:APO_MED, up:APO_UP, lo:APO_LO,
  x:[0.26,5.74,APO_X_TICKS,APO_X_LABELS,APO_X_MINOR], y:[0.08,6.43,APO_Y_TICKS,APO_Y_LABELS,APO_Y_MINOR]},
 {name:PANEL_NAMES[5], left:856, grayTop:308, grayH:151, w:405, yW:46, obs:PAC_OBS, blq:PAC_BLQ, med:PAC_MED, up:PAC_UP, lo:PAC_LO,
  x:[-0.56,11.66,X_TICKS_PAC,X_LABELS_PAC,X_MINOR_PAC], y:[-0.63,13.02,PAC_Y_TICKS,PAC_Y_LABELS,PAC_Y_MINOR]},
 {name:PANEL_NAMES[6], left:30, grayTop:547, grayH:150, w:417, yW:57, obs:GEM_OBS, blq:GEM_BLQ, med:GEM_MED, up:GEM_UP, lo:GEM_LO,
  x:[-0.64,12.07,X_TICKS_12,X_LABELS_12,X_MINOR_12], y:[-0.65,13.28,Y_TICKS_10,Y_LABELS_10,Y_MINOR_10]},
 {name:PANEL_NAMES[7], left:449, grayTop:547, grayH:150, w:405, yW:57, obs:DOC_OBS, blq:DOC_BLQ, med:DOC_MED, up:DOC_UP, lo:DOC_LO,
  x:[0.175,0.827,DOC_X_TICKS,DOC_X_LABELS,DOC_X_MINOR], y:[0.041,1.031,DOC_Y_TICKS,DOC_Y_LABELS,DOC_Y_MINOR]},
 {name:PANEL_NAMES[8], left:856, grayTop:547, grayH:150, w:405, yW:37, obs:ERL_OBS, blq:ERL_BLQ, med:ERL_MED, up:ERL_UP, lo:ERL_LO,
  x:[-0.045,1.80,ERL_X_TICKS,ERL_X_LABELS,ERL_X_MINOR], y:[-0.22,3.16,ERL_Y_TICKS,ERL_Y_LABELS,ERL_Y_MINOR]}
];

const toXY = arr => arr.map(p => ({x:p[0], y:p[1]}));

function tickList(major, labels, minor, lo, hi){
  const t = major.map((v,i)=>({value:v, lab:labels[i], isMajor:true}))
    .concat(minor.filter(v=>v>=lo && v<=hi).map(v=>({value:v, lab:'', isMajor:false})));
  return t.sort((a,b)=>a.value-b.value);
}

const bgPlugin = {
  id:'panelBg',
  beforeDraw(chart){
    const a = chart.chartArea, ctx = chart.ctx;
    ctx.save(); ctx.fillStyle = '#EBEBEB';
    ctx.fillRect(a.left, a.top, a.right - a.left, a.bottom - a.top);
    ctx.restore();
  }
};

function axisOpts(spec, isX, fixedSize){
  const [lo, hi, major, labels, minor] = spec;
  const list = tickList(major, labels, minor, lo, hi);
  return {
    type:'linear', position: isX ? 'bottom' : 'left', min:lo, max:hi, bounds:'data',
    afterBuildTicks: s => { s.ticks = list.map(t => ({value:t.value, lab:t.lab, isMajor:t.isMajor})); },
    afterFit: s => { if (isX) s.height = fixedSize; else s.width = fixedSize; },
    border:{display:false},
    grid:{
      color:'#FFFFFF',
      lineWidth: c => (c.tick && c.tick.isMajor) ? 1.1 : 0.55,
      drawTicks:true, tickLength:3,
      tickColor: c => (c.tick && c.tick.isMajor) ? '#333333' : 'rgba(0,0,0,0)',
      tickWidth: 1
    },
    ticks:{
      autoSkip:false, maxRotation:0, minRotation:0, padding: isX ? 3 : 2,
      color:'#4D4D4D', font:{family:FONT, size:14},
      callback: (v, i, ticks) => ticks[i].lab
    }
  };
}

const wrap = document.getElementById('wrap');
PANELS.forEach(p => {
  const h = PAD_TOP + p.grayH + X_AXIS_H;
  const cv = document.createElement('canvas');
  cv.width = p.w; cv.height = h;
  cv.style.left = p.left + 'px'; cv.style.top = (p.grayTop - PAD_TOP) + 'px';
  cv.style.width = p.w + 'px'; cv.style.height = h + 'px';
  wrap.appendChild(cv);

  const t = document.createElement('div');
  t.className = 'ptitle'; t.textContent = p.name;
  t.style.left = (p.left + p.yW) + 'px'; t.style.top = (p.grayTop - 27) + 'px';
  wrap.appendChild(t);

  new Chart(cv, {
    type:'scatter',
    data:{datasets:[
      {data:toXY(p.med), showLine:true, borderColor:'#0000FF', borderWidth:1, pointRadius:0, order:0},
      {data:toXY(p.up), showLine:true, borderColor:'rgba(190,30,70,0.75)', borderDash:[4,3], borderWidth:1, pointRadius:0, order:1},
      {data:toXY(p.lo), showLine:true, borderColor:'rgba(190,30,70,0.75)', borderDash:[4,3], borderWidth:1, pointRadius:0, order:1},
      {data:toXY(p.blq), showLine:false, borderColor:'rgba(255,0,0,0.32)', backgroundColor:'rgba(0,0,0,0)', pointRadius:3.3, borderWidth:1.1, order:2},
      {data:toXY(p.obs), showLine:false, borderColor:'rgba(0,0,0,0.22)', backgroundColor:'rgba(0,0,0,0)', pointRadius:3.3, borderWidth:1.1, order:3}
    ]},
    options:{
      responsive:false, animation:false, events:[],
      layout:{padding:{top:PAD_TOP, right:PAD_RIGHT, left:0, bottom:0}},
      plugins:{legend:{display:false}, tooltip:{enabled:false}, title:{display:false}},
      scales:{ x: axisOpts(p.x, true, X_AXIS_H), y: axisOpts(p.y, false, p.yW) }
    },
    plugins:[bgPlugin]
  });
});
</script>
</body></html>
